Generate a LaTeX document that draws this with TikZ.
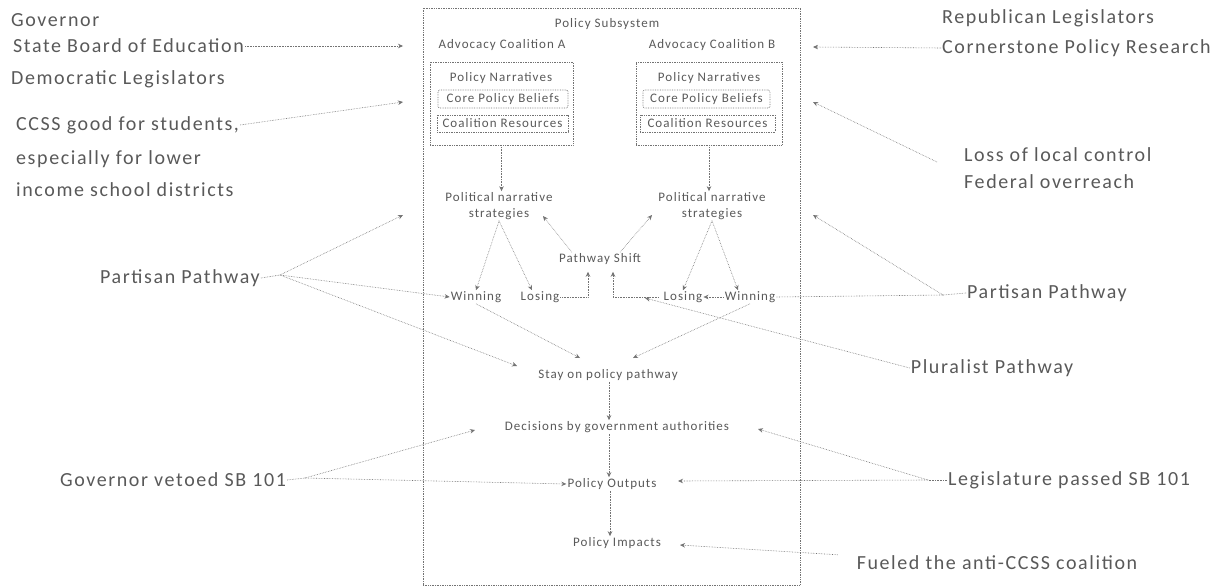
\documentclass[tikz,border=0pt]{standalone}
\usepackage{fontspec}
\setmainfont{Carlito}
\newfontfamily\spacedf[LetterSpace=8]{Carlito}
\usetikzlibrary{arrows.meta}
\definecolor{ink}{gray}{0.35}
\definecolor{lineink}{gray}{0.45}
\begin{document}
\begin{tikzpicture}[x=1pt,y=-1pt,
  big/.style={font=\spacedf\fontsize{20}{24}\selectfont, text=ink, inner sep=1pt},
  small/.style={font=\spacedf\fontsize{13}{16}\selectfont, text=ink, inner sep=1pt},
  boxst/.style={draw=lineink, densely dotted, line width=0.7pt},
  conn/.style={draw=lineink, densely dotted, line width=0.6pt, -{Stealth[length=5pt,width=4.5pt]}},
  plain/.style={draw=lineink, densely dotted, line width=0.6pt}]
\useasboundingbox (0,0) rectangle (1223,586);
% main box
\node[boxst, minimum width=377pt, minimum height=577pt, inner sep=0pt] (sub) at (611.5,296.5) {};
\node[small] (pst) at (607,24) {Policy Subsystem};
\node[small] (acA) at (502,45) {Advocacy Coalition A};
\node[small] (acB) at (712,45) {Advocacy Coalition B};
% coalition boxes
\node[boxst, minimum width=143pt, minimum height=83pt, inner sep=0pt] (bA) at (501.5,103.5) {};
\node[boxst, minimum width=146pt, minimum height=83pt, inner sep=0pt] (bB) at (709,103.5) {};
\node[small] (pnA) at (501,78) {Policy Narratives};
\node[small, boxst, rounded corners=2pt, minimum width=130pt, minimum height=18pt] (cbA) at (503,99) {Core Policy Beliefs};
\node[small, boxst, minimum width=131pt, minimum height=17pt] (crA) at (502.5,123.5) {Coalition Resources};
\node[small] (pnB) at (709,78) {Policy Narratives};
\node[small, boxst, rounded corners=2pt, minimum width=127pt, minimum height=18pt] (cbB) at (706.5,99) {Core Policy Beliefs};
\node[small, boxst, minimum width=135pt, minimum height=17pt] (crB) at (707.5,123.5) {Coalition Resources};
% inner flow
\node[small, align=center] (stA) at (499,206) {Political narrative\\strategies};
\node[small, align=center] (stB) at (712,206) {Political narrative\\strategies};
\node[small] (psh) at (600,259) {Pathway Shift};
\node[small] (winA) at (476,297) {Winning};
\node[small] (losA) at (540,297) {Losing};
\node[small] (losB) at (683,297) {Losing};
\node[small] (winB) at (750,297) {Winning};
\node[small] (stay) at (608,375) {Stay on policy pathway};
\node[small] (dec) at (617,427) {Decisions by government authorities};
\node[small] (out) at (612,484) {Policy Outputs};
\node[small] (imp) at (617,543) {Policy Impacts};
% outer left
\node[big, anchor=west] (gov) at (10,20) {Governor};
\node[big, anchor=west] (sbe) at (12,46) {State Board of Education};
\node[big, anchor=west] (dem) at (10,79) {Democratic Legislators};
\node[big, anchor=west] (cc1) at (15,125) {CCSS good for students,};
\node[big, anchor=west] (cc2) at (15,159) {especially for lower};
\node[big, anchor=west] (cc3) at (15,190) {income school districts};
\node[big] (ppL) at (180,278) {Partisan Pathway};
\node[big] (govv) at (173,480) {Governor vetoed SB 101};
% outer right
\node[big, anchor=west] (rep) at (941,18) {Republican Legislators};
\node[big, anchor=west] (corn) at (941,48) {Cornerstone Policy Research};
\node[big, anchor=west] (loss) at (963,155) {Loss of local control};
\node[big, anchor=west] (fed) at (963,182) {Federal overreach};
\node[big] (ppR) at (1047,293) {Partisan Pathway};
\node[big] (plu) at (992,368) {Pluralist Pathway};
\node[big] (leg) at (1069,480) {Legislature passed SB 101};
\node[big] (fuel) at (997,563) {Fueled the anti-CCSS coalition};
% free ends
\coordinate (tL1) at (403,46);
\coordinate (tL2) at (403,102);
\coordinate (tL3) at (403,215);
\coordinate (tR1) at (813,47);
\coordinate (tR2) at (813,102);
\coordinate (tR3) at (813,215);
\coordinate (fL) at (280,275);
\coordinate (fR) at (943,295);
\coordinate (fG) at (305,478);
\coordinate (fLeg) at (928,480);
\coordinate (tStay) at (517,366);
\coordinate (tPlu) at (645,298);
\coordinate (tDecL) at (475,430);
\coordinate (tDecR) at (758,429);
\coordinate (tOutR) at (678,481);
\coordinate (tImp) at (680,545);
\coordinate (nA) at (543,216);
\coordinate (nB) at (652,215);
\coordinate (sA) at (580,358);
\coordinate (sB) at (633,358);
% connectors outside
\draw[conn] (sbe.east) -- (tL1);
\draw[conn] (cc1.east) -- (tL2);
\draw[conn] ([xshift=-26pt,yshift=-7pt]loss.west) -- (tR2);
\draw[conn] (corn.west) -- (tR1);
\draw[plain] (ppL.east) -- (fL);
\draw[conn] (fL) -- (tL3);
\draw[conn] (fL) -- (winA.west);
\draw[conn] (fL) -- (tStay);
\draw[plain] (ppR.west) -- (fR);
\draw[conn] (fR) -- (tR3);
\draw[plain] (fR) -- (winB.east);
\draw[conn] (winB.west) -- (losB.east);
\draw[conn] (plu.west) -- (tPlu);
\draw[plain] (govv.east) -- (fG);
\draw[conn] (fG) -- (tDecL);
\draw[conn] (fG) -- (out.west);
\draw[plain] (leg.west) -- (fLeg);
\draw[conn] (fLeg) -- (tDecR);
\draw[conn] (fLeg) -- (tOutR);
\draw[conn] ([xshift=-18pt]fuel.north west) -- (tImp);
% connectors inside
\draw[conn] (bA.south) -- (bA.south |- stA.north);
\draw[conn] (bB.south) -- (bB.south |- stB.north);
\draw[conn] (stA.south) -- (winA.north);
\draw[conn] (stA.south) -- ([xshift=-8pt]losA.north);
\draw[conn] (stB.south) -- (losB.north);
\draw[conn] (stB.south) -- ([xshift=-12pt]winB.north);
\draw[conn] ([xshift=-28pt]psh.north) -- (nA);
\draw[conn] ([xshift=20pt]psh.north) -- (nB);
\draw[conn] (losA.east) -| ([xshift=-12pt,yshift=-6pt]psh.south);
\draw[conn] ([xshift=-4pt]losB.west) -| ([xshift=13pt,yshift=-6pt]psh.south);
\draw[conn] (winA.south) -- (sA);
\draw[conn] (winB.south) -- (sB);
\draw[conn] ([xshift=1pt]stay.south) -- ([xshift=1pt]stay.south |- dec.north);
\draw[conn] ([xshift=-8pt]dec.south) -- ([xshift=-8pt]dec.south |- out.north);
\draw[conn] ([xshift=-2pt]out.south) -- ([xshift=-2pt]out.south |- imp.north);
\end{tikzpicture}
\end{document}
